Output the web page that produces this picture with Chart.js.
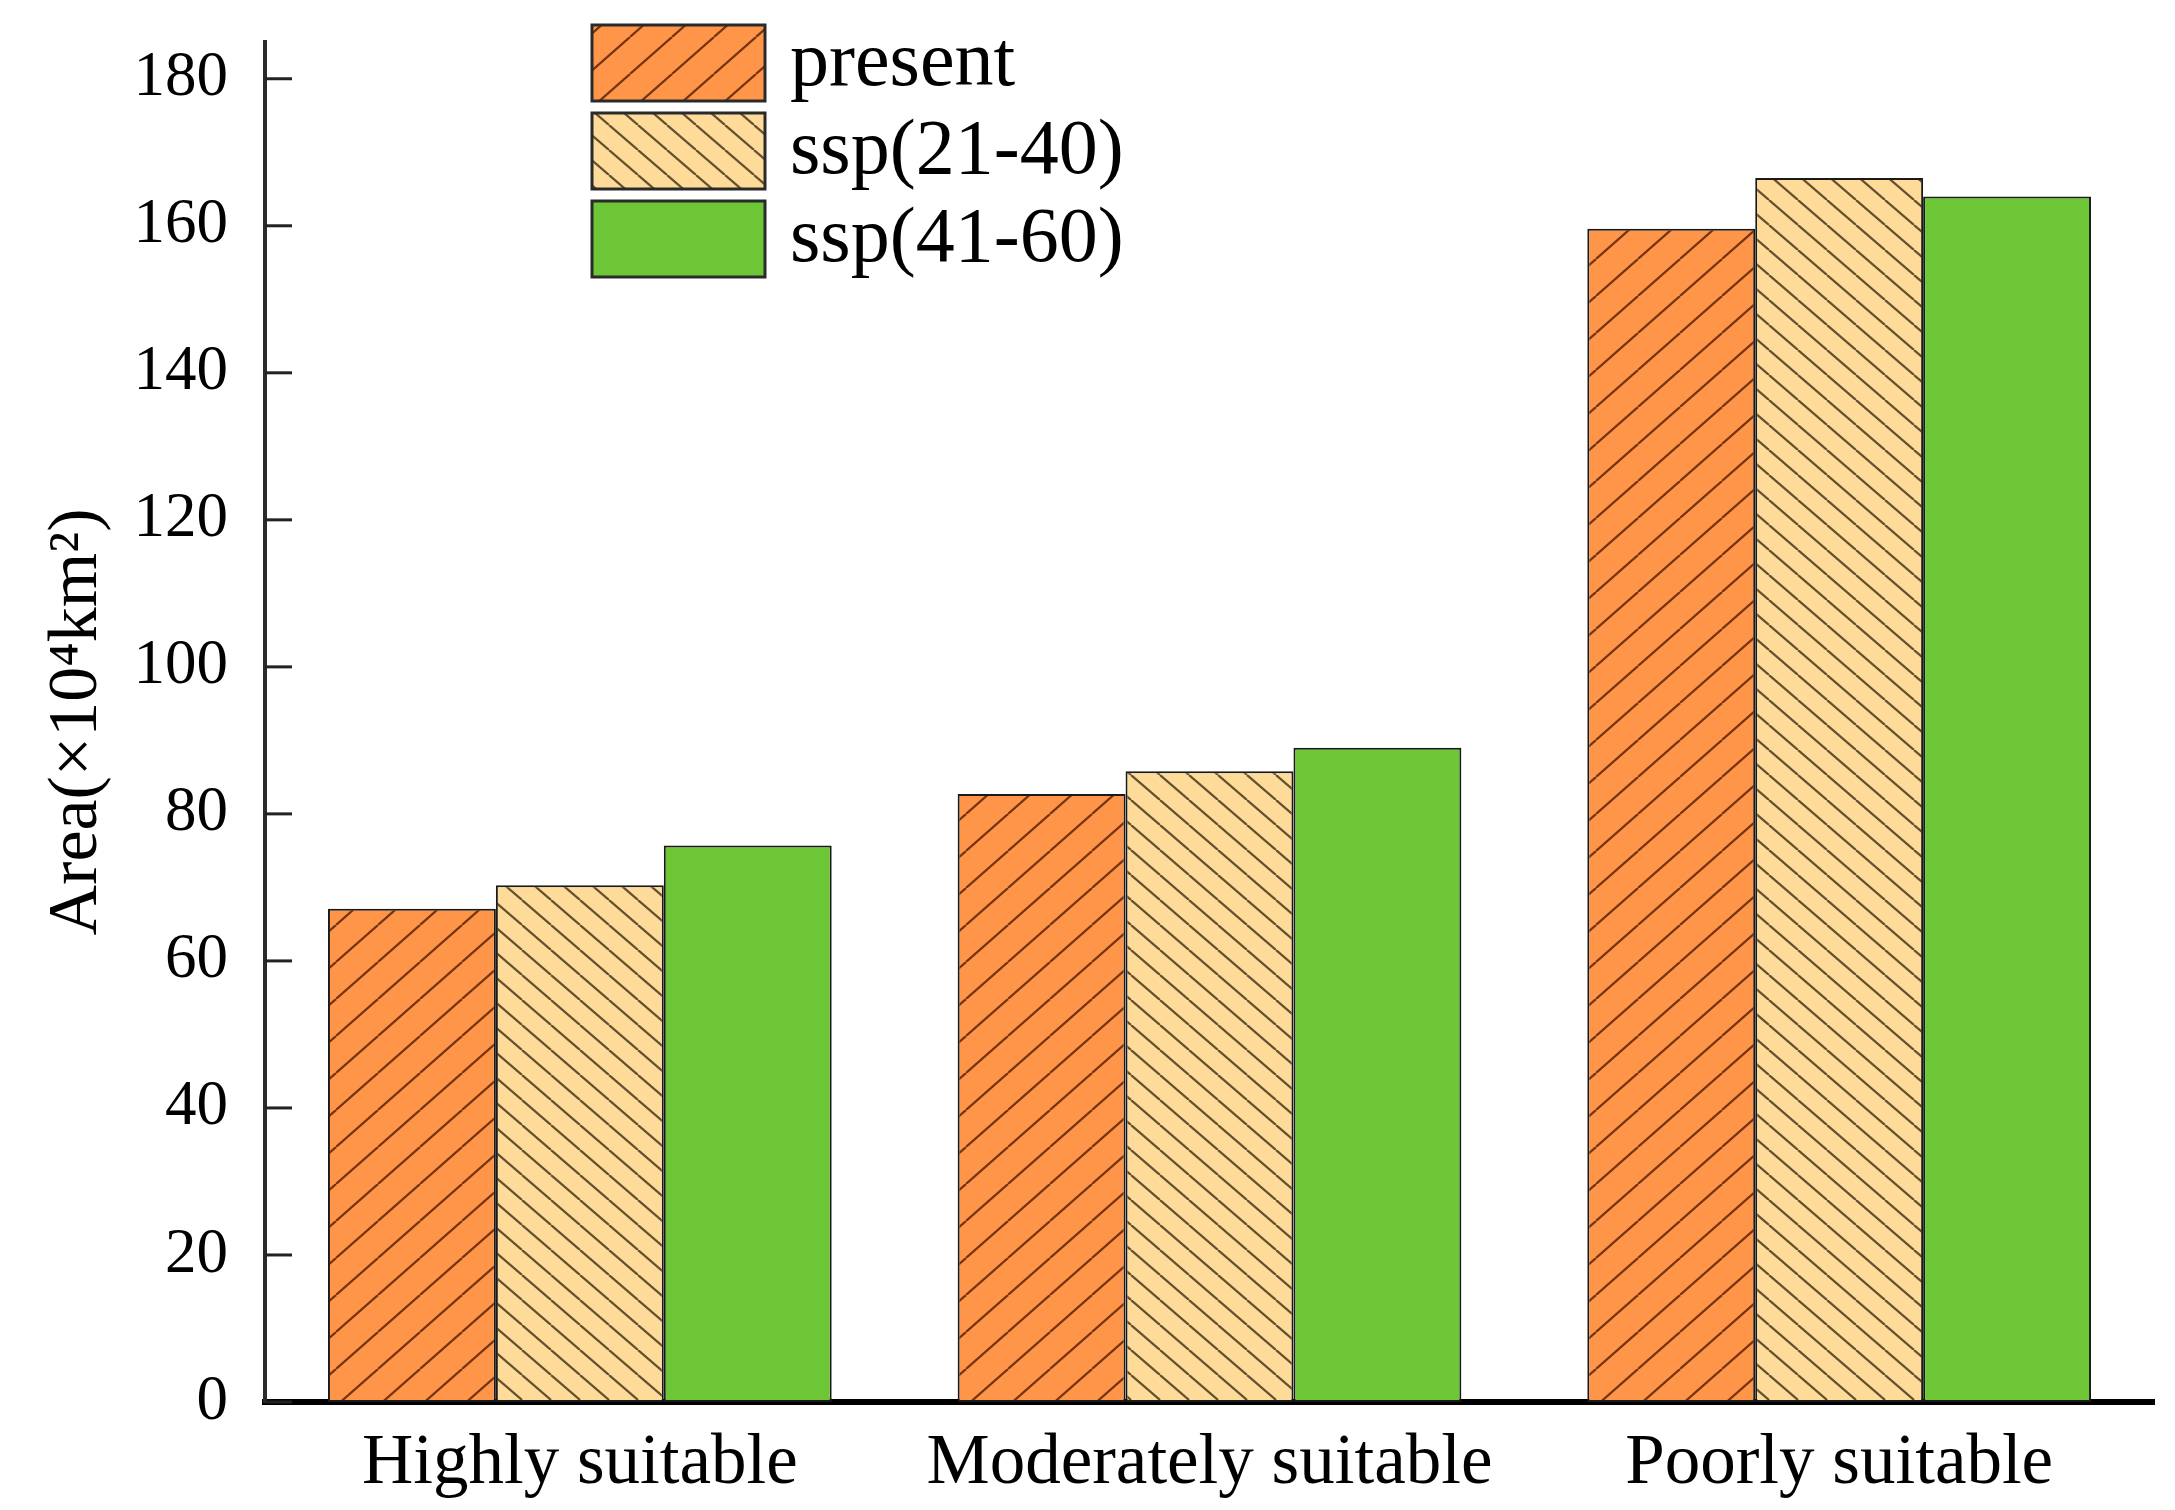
<!DOCTYPE html>
<html>
<head>
<meta charset="utf-8">
<script src="https://cdn.jsdelivr.net/npm/chart.js@4.4.1/dist/chart.umd.min.js"></script>
<style>
  html, body { margin: 0; padding: 0; background: #fff; }
  #wrap { width: 2175px; height: 1510px; }
</style>
</head>
<body>
<div id="wrap"><canvas id="myChart" width="2175" height="1510"></canvas></div>
<script>
let categories = ['Highly suitable', 'Moderately suitable', 'Poorly suitable'];
let seriesNames = ['present', 'ssp(21-40)', 'ssp(41-60)'];
let presentValues = [67.1, 82.7, 159.6];
let ssp2140Values = [70.3, 85.8, 166.5];
let ssp4160Values = [75.7, 89.0, 164.0];
let yTicks = [0, 20, 40, 60, 80, 100, 120, 140, 160, 180];

let fontFamily = '"Liberation Serif", "Times New Roman", serif';

// hatch tiles, the canvas repeats them
function makeHatch(fill, lineColor, w, h, rising) {
    let c = document.createElement('canvas');
    c.width = w;
    c.height = h;
    let g = c.getContext('2d');
    g.fillStyle = fill;
    g.fillRect(0, 0, w, h);
    g.strokeStyle = lineColor;
    g.lineWidth = 2.2;
    for (let k = -1; k <= 1; k++) {
        g.beginPath();
        if (rising) {
            g.moveTo(k * w, h);
            g.lineTo(k * w + w, 0);
        } else {
            g.moveTo(k * w, 0);
            g.lineTo(k * w + w, h);
        }
        g.stroke();
    }
    return document.getElementById('myChart').getContext('2d').createPattern(c, 'repeat');
}

let presentFill = makeHatch('#ff9549', 'rgba(90,35,5,0.85)', 42, 37, true);
let ssp2140Fill = makeHatch('#ffdb9a', 'rgba(60,45,20,0.8)', 29, 25, false);
let ssp4160Fill = '#6dc635';

let innerTicks = {
    id: 'innerTicks',
    afterDatasetsDraw(chart) {
        let ctx = chart.ctx;
        let y = chart.scales.y;
        ctx.save();
        ctx.strokeStyle = '#222';
        ctx.lineWidth = 3;
        for (let i = 0; i < yTicks.length; i++) {
            let py = y.getPixelForValue(yTicks[i]);
            ctx.beginPath();
            ctx.moveTo(chart.chartArea.left, py);
            ctx.lineTo(chart.chartArea.left + 27, py);
            ctx.stroke();
        }
        ctx.restore();
    }
};

let boxLegend = {
    id: 'boxLegend',
    afterDraw(chart) {
        let ctx = chart.ctx;
        let rows = [25, 113, 201];
        ctx.save();
        for (let i = 0; i < chart.data.datasets.length; i++) {
            let ds = chart.data.datasets[i];
            ctx.fillStyle = ds.backgroundColor;
            ctx.fillRect(592, rows[i], 173, 76);
            ctx.strokeStyle = '#2a2a2a';
            ctx.lineWidth = 3;
            ctx.strokeRect(592, rows[i], 173, 76);
            ctx.fillStyle = '#000';
            ctx.font = '78px ' + fontFamily;
            ctx.textBaseline = 'middle';
            ctx.textAlign = 'left';
            ctx.fillText(ds.label, 790, rows[i] + 40);
        }
        ctx.restore();
    }
};

new Chart(document.getElementById('myChart'), {
    type: 'bar',
    data: {
        labels: categories,
        datasets: [
            { label: seriesNames[0], data: presentValues, backgroundColor: presentFill },
            { label: seriesNames[1], data: ssp2140Values, backgroundColor: ssp2140Fill },
            { label: seriesNames[2], data: ssp4160Values, backgroundColor: ssp4160Fill }
        ]
    },
    options: {
        responsive: false,
        animation: false,
        devicePixelRatio: 1,
        layout: { padding: { top: 42, right: 21, left: 0, bottom: 0 } },
        datasets: {
            bar: {
                categoryPercentage: 0.8,
                barPercentage: 1.0,
                borderColor: '#1a1a1a',
                borderWidth: 2,
                borderSkipped: false
            }
        },
        plugins: {
            legend: { display: false },
            tooltip: { enabled: false }
        },
        scales: {
            x: {
                grid: { display: false },
                border: { display: true, color: '#000', width: 6 },
                ticks: {
                    color: '#000',
                    padding: 12,
                    font: { family: fontFamily, size: 71 }
                },
                afterFit(scale) {
                    scale.height = 108;
                    scale.paddingLeft = 0;
                    scale.paddingRight = 0;
                }
            },
            y: {
                min: 0,
                max: 185,
                grid: { display: false },
                border: { display: true, color: '#2a2a2a', width: 4 },
                ticks: {
                    color: '#000',
                    padding: 29,
                    font: { family: fontFamily, size: 63 }
                },
                afterBuildTicks(scale) {
                    scale.ticks = yTicks.map(v => ({ value: v }));
                },
                title: {
                    display: true,
                    text: 'Area(×10⁴km²)',
                    color: '#000',
                    padding: { top: 36, bottom: 0 },
                    font: { family: fontFamily, size: 70 }
                },
                afterFit(scale) {
                    scale.width = 265;
                    scale.paddingTop = 0;
                    scale.paddingBottom = 0;
                }
            }
        }
    },
    plugins: [innerTicks, boxLegend]
});
</script>
</body>
</html>
